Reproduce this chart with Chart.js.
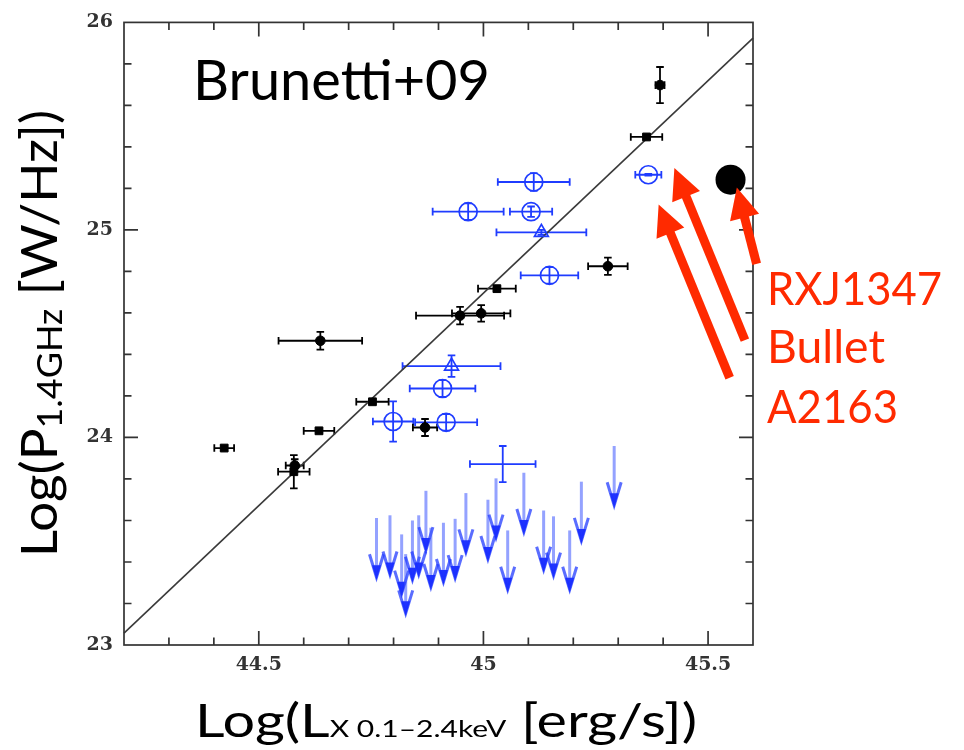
<!DOCTYPE html>
<html>
<head>
<meta charset="utf-8">
<script src="https://cdn.jsdelivr.net/npm/chart.js@4.4.1/dist/chart.umd.min.js"></script>
<style>
  html, body { margin: 0; padding: 0; background: #ffffff; }
  #wrap { width: 964px; height: 750px; position: relative; }
</style>
</head>
<body>
<div id="wrap"><canvas id="c" width="964" height="750"></canvas></div>
<script>
// Radio halo power vs X-ray luminosity (Brunetti et al. 2009 sample)

// Axis ranges and labelled ticks
const xRange = [44.2, 45.6];
const yRange = [23, 26];
const xTickLabels = [44.5, 45, 45.5];
const yTickLabels = [23, 24, 25, 26];

// Best-fit correlation (end points across the frame)
const fitX = [44.2, 45.6];
const fitY = [23.057, 25.924];

// Black filled circles: giant halos
const blackCircX    = [44.637, 44.870, 44.948, 44.995, 45.277, 45.393, 44.580];
const blackCircY    = [24.466, 24.048, 24.587, 24.598, 24.825, 25.698, 23.865];
const blackCircXErr = [0.093, 0.027, 0.098, 0.065, 0.044, 0.010, 0.020];
const blackCircYErr = [0.043, 0.041, 0.042, 0.040, 0.042, 0.087, 0.030];

// Black filled squares
const blackSqX    = [44.423, 44.634, 44.578, 44.753, 45.030, 45.363];
const blackSqY    = [23.949, 24.032, 23.835, 24.172, 24.717, 25.448];
const blackSqXErr = [0.022, 0.034, 0.035, 0.036, 0.042, 0.035];
const blackSqYErr = [0.010, 0.010, 0.080, 0.010, 0.010, 0.010];

// Blue open circles
const blueCircX    = [45.112, 44.966, 45.106, 45.147, 44.909, 44.917, 44.799, 45.367];
const blueCircY    = [25.231, 25.088, 25.088, 24.781, 24.236, 24.073, 24.077, 25.266];
const blueCircXErr = [0.080, 0.079, 0.047, 0.064, 0.073, 0.069, 0.045, 0.029];
const blueCircYErr = [0.043, 0.040, 0.025, 0.040, 0.040, 0.040, 0.097, 0.004];

// Blue open triangles
const blueTriX    = [45.129, 44.929];
const blueTriY    = [24.988, 24.344];
const blueTriXErr = [0.100, 0.109];
const blueTriYErr = [0.012, 0.052];

// Blue error cross without symbol
const blueCrossX    = [45.043];
const blueCrossY    = [23.872];
const blueCrossXErr = [0.073];
const blueCrossYErr = [0.087];

// Blue upper limits
const upperX = [44.762, 44.792, 44.818, 44.827, 44.842, 44.856, 44.872, 44.883, 44.911, 44.937,
                44.961, 45.010, 45.028, 45.054, 45.090, 45.134, 45.156, 45.192, 45.218, 45.291];
const upperY = [23.612, 23.625, 23.533, 23.438, 23.600, 23.625, 23.743, 23.565, 23.589, 23.608,
                23.732, 23.700, 23.803, 23.552, 23.830, 23.648, 23.620, 23.552, 23.787, 23.959];
const upperArrowLen = 0.3;

// Highlighted new halo
const bigDotX = [45.55];
const bigDotY = [25.242];

// Callout arrows (tail -> tip) and their labels
const calloutTailX = [45.608, 45.582, 45.548];
const calloutTailY = [24.836, 24.469, 24.288];
const calloutTipX  = [45.564, 45.425, 45.390];
const calloutTipY  = [25.204, 25.299, 25.123];
const calloutLabels = ['RXJ1347', 'Bullet', 'A2163'];

const BLUE = '#1f3cff';
const RED = '#ff2a00';
const INK = '#333333';
const TEXT_FONT = 'Lato, "Open Sans", sans-serif';

function pts(xs, ys, xe, ye) {
  return xs.map((x, i) => ({ x: x, y: ys[i], xe: xe ? xe[i] : 0, ye: ye ? ye[i] : 0 }));
}

// Error bars with end caps, drawn under the symbols
const errorBars = {
  id: 'errorBars',
  beforeDatasetsDraw(chart) {
    const ctx = chart.ctx, xs = chart.scales.x, ys = chart.scales.y;
    chart.data.datasets.forEach((ds, di) => {
      if (!ds.errorBars) return;
      ctx.save();
      ctx.strokeStyle = ds.errColor;
      ctx.lineWidth = 1.8;
      const cap = 3.8;
      ds.data.forEach(p => {
        const px = xs.getPixelForValue(p.x), py = ys.getPixelForValue(p.y);
        if (p.xe > 0) {
          const x0 = xs.getPixelForValue(p.x - p.xe), x1 = xs.getPixelForValue(p.x + p.xe);
          ctx.beginPath();
          ctx.moveTo(x0, py); ctx.lineTo(x1, py);
          ctx.moveTo(x0, py - cap); ctx.lineTo(x0, py + cap);
          ctx.moveTo(x1, py - cap); ctx.lineTo(x1, py + cap);
          ctx.stroke();
        }
        if (p.ye > 0) {
          const y0 = ys.getPixelForValue(p.y - p.ye), y1 = ys.getPixelForValue(p.y + p.ye);
          ctx.beginPath();
          ctx.moveTo(px, y0); ctx.lineTo(px, y1);
          ctx.moveTo(px - cap, y0); ctx.lineTo(px + cap, y0);
          ctx.moveTo(px - cap, y1); ctx.lineTo(px + cap, y1);
          ctx.stroke();
        }
      });
      ctx.restore();
    });
  }
};

// Downward arrows for radio upper limits
const upperLimits = {
  id: 'upperLimits',
  afterDatasetsDraw(chart) {
    const ctx = chart.ctx, xs = chart.scales.x, ys = chart.scales.y;
    const ds = chart.data.datasets.find(d => d.upperLimit);
    if (!ds) return;
    ctx.save();
    ds.data.forEach(p => {
      const px = xs.getPixelForValue(p.x);
      const top = ys.getPixelForValue(p.y);
      const tip = ys.getPixelForValue(p.y - upperArrowLen);
      // shaft
      ctx.strokeStyle = 'rgba(60,85,255,0.55)';
      ctx.lineWidth = 3;
      ctx.lineCap = 'butt';
      ctx.beginPath();
      ctx.moveTo(px, top); ctx.lineTo(px, tip - 8);
      ctx.stroke();
      // open V head
      ctx.strokeStyle = 'rgba(35,60,255,0.75)';
      ctx.lineWidth = 3;
      ctx.lineJoin = 'miter';
      ctx.beginPath();
      ctx.moveTo(px - 7, tip - 26); ctx.lineTo(px, tip - 3); ctx.lineTo(px + 7, tip - 26);
      ctx.stroke();
      // solid tip
      ctx.fillStyle = 'rgba(25,45,255,0.95)';
      ctx.beginPath();
      ctx.moveTo(px, tip); ctx.lineTo(px - 4.5, tip - 15); ctx.lineTo(px + 4.5, tip - 15);
      ctx.closePath();
      ctx.fill();
    });
    ctx.restore();
  }
};

// Frame with inward major/minor ticks on all four sides
const frame = {
  id: 'frame',
  afterDatasetsDraw(chart) {
    const ctx = chart.ctx, a = chart.chartArea, xs = chart.scales.x, ys = chart.scales.y;
    ctx.save();
    ctx.strokeStyle = INK;
    ctx.lineWidth = 1.7;
    ctx.strokeRect(a.left, a.top, a.right - a.left, a.bottom - a.top);
    ctx.beginPath();
    for (let i = Math.round(xRange[0] * 10) + 1; i < Math.round(xRange[1] * 10); i++) {
      const v = i / 10;
      const len = (i % 5 === 0) ? 14 : 7.5;
      const px = xs.getPixelForValue(v);
      ctx.moveTo(px, a.bottom); ctx.lineTo(px, a.bottom - len);
      ctx.moveTo(px, a.top); ctx.lineTo(px, a.top + len);
    }
    for (let i = yRange[0] * 5 + 1; i < yRange[1] * 5; i++) {
      const v = i / 5;
      const len = (i % 5 === 0) ? 14 : 7.5;
      const py = ys.getPixelForValue(v);
      ctx.moveTo(a.left, py); ctx.lineTo(a.left + len, py);
      ctx.moveTo(a.right, py); ctx.lineTo(a.right - len, py);
    }
    ctx.stroke();
    ctx.restore();
  }
};

// Draw a run of text pieces (with optional subscript shift), stretched to a given width
function richText(ctx, pieces, width) {
  let total = 0;
  pieces.forEach(p => { ctx.font = p.size + 'px ' + TEXT_FONT; p.w = ctx.measureText(p.t).width; total += p.w; });
  const sx = width / total;
  ctx.save();
  ctx.scale(sx, 1);
  let x = 0;
  pieces.forEach(p => {
    ctx.font = p.size + 'px ' + TEXT_FONT;
    ctx.fillText(p.t, x, p.dy || 0);
    x += p.w;
  });
  ctx.restore();
}

// Titles, label and callouts
const annotations = {
  id: 'annotations',
  afterDraw(chart) {
    const ctx = chart.ctx, xs = chart.scales.x, ys = chart.scales.y;
    ctx.save();
    ctx.fillStyle = '#000';
    ctx.textBaseline = 'alphabetic';
    ctx.textAlign = 'left';

    // panel label
    ctx.save();
    ctx.translate(193, 100);
    richText(ctx, [{ t: 'Brunetti+09', size: 57 }], 297);
    ctx.restore();

    // x-axis title
    ctx.save();
    ctx.translate(195, 737);
    richText(ctx, [
      { t: 'Log(L', size: 46 },
      { t: 'X 0.1\u20132.4keV', size: 24, dy: 0 },
      { t: ' [erg/s])', size: 46 }
    ], 502);
    ctx.restore();

    // y-axis title
    ctx.save();
    ctx.translate(57, 557);
    ctx.rotate(-Math.PI / 2);
    richText(ctx, [
      { t: 'Log(P', size: 50 },
      { t: '1.4GHz', size: 34, dy: 5 },
      { t: ' [W/Hz])', size: 50 }
    ], 447);
    ctx.restore();

    // callout arrows
    ctx.strokeStyle = RED;
    ctx.fillStyle = RED;
    calloutTailX.forEach((tx, i) => {
      const x0 = xs.getPixelForValue(tx), y0 = ys.getPixelForValue(calloutTailY[i]);
      const x1 = xs.getPixelForValue(calloutTipX[i]), y1 = ys.getPixelForValue(calloutTipY[i]);
      const ang = Math.atan2(y1 - y0, x1 - x0);
      const headLen = 31, headHalf = 15;
      const bx = x1 - headLen * Math.cos(ang), by = y1 - headLen * Math.sin(ang);
      ctx.lineWidth = 9;
      ctx.lineCap = 'butt';
      ctx.beginPath();
      ctx.moveTo(x0, y0); ctx.lineTo(bx + 4 * Math.cos(ang), by + 4 * Math.sin(ang));
      ctx.stroke();
      ctx.beginPath();
      ctx.moveTo(x1, y1);
      ctx.lineTo(bx + headHalf * Math.sin(ang), by - headHalf * Math.cos(ang));
      ctx.lineTo(bx - headHalf * Math.sin(ang), by + headHalf * Math.cos(ang));
      ctx.closePath();
      ctx.fill();
    });

    // callout labels
    ctx.fillStyle = RED;
    const baselines = [305, 363, 423];
    const widths = [175, 118, 131];
    calloutLabels.forEach((t, i) => {
      ctx.save();
      ctx.translate(767, baselines[i]);
      richText(ctx, [{ t: t, size: 46 }], widths[i]);
      ctx.restore();
    });
    ctx.restore();
  }
};

const tickFont = { family: '"DejaVu Serif", serif', size: 19, weight: 'bold' };

new Chart(document.getElementById('c'), {
  type: 'scatter',
  data: {
    datasets: [
      {
        type: 'line', label: 'fit',
        data: fitX.map((x, i) => ({ x: x, y: fitY[i] })),
        borderColor: '#3a3a3a', borderWidth: 1.6, pointRadius: 0, fill: false, order: 10
      },
      {
        label: 'upper limits', upperLimit: true,
        data: pts(upperX, upperY), pointRadius: 0
      },
      {
        label: 'blue cross', errorBars: true, errColor: BLUE,
        data: pts(blueCrossX, blueCrossY, blueCrossXErr, blueCrossYErr), pointRadius: 0
      },
      {
        label: 'blue circles', errorBars: true, errColor: BLUE,
        data: pts(blueCircX, blueCircY, blueCircXErr, blueCircYErr),
        pointStyle: 'circle', pointRadius: 9, borderColor: BLUE, borderWidth: 1.7,
        backgroundColor: 'rgba(0,0,0,0)'
      },
      {
        label: 'blue triangles', errorBars: true, errColor: BLUE,
        data: pts(blueTriX, blueTriY, blueTriXErr, blueTriYErr),
        pointStyle: 'triangle', pointRadius: 8, borderColor: BLUE, borderWidth: 1.7,
        backgroundColor: 'rgba(0,0,0,0)'
      },
      {
        label: 'black squares', errorBars: true, errColor: '#000',
        data: pts(blackSqX, blackSqY, blackSqXErr, blackSqYErr),
        pointStyle: 'rect', pointRadius: 5.5, borderColor: '#000', borderWidth: 1,
        backgroundColor: '#000'
      },
      {
        label: 'black circles', errorBars: true, errColor: '#000',
        data: pts(blackCircX, blackCircY, blackCircXErr, blackCircYErr),
        pointStyle: 'circle', pointRadius: 4.8, borderColor: '#000', borderWidth: 1,
        backgroundColor: '#000'
      },
      {
        label: 'new halo',
        data: pts(bigDotX, bigDotY),
        pointStyle: 'circle', pointRadius: 15, borderColor: '#000', borderWidth: 0,
        backgroundColor: '#000'
      }
    ]
  },
  options: {
    responsive: false,
    animation: false,
    events: [],
    layout: { padding: { top: 16, right: 211, left: 0, bottom: 0 } },
    plugins: { legend: { display: false }, tooltip: { enabled: false } },
    elements: { line: { tension: 0 } },
    datasets: { scatter: { clip: false }, line: { clip: false } },
    scales: {
      x: {
        type: 'linear', min: xRange[0], max: xRange[1],
        grid: { display: false, drawTicks: false },
        border: { display: false },
        afterBuildTicks: s => { s.ticks = xTickLabels.map(v => ({ value: v })); },
        afterFit: s => { s.height = 105; },
        ticks: {
          autoSkip: false, padding: 9, color: INK, font: tickFont, maxRotation: 0,
          callback: v => String(v)
        }
      },
      y: {
        type: 'linear', min: yRange[0], max: yRange[1],
        grid: { display: false, drawTicks: false },
        border: { display: false },
        afterBuildTicks: s => { s.ticks = yTickLabels.map(v => ({ value: v })); },
        afterFit: s => { s.width = 124; },
        ticks: { padding: 11, color: INK, font: tickFont, callback: v => String(v) }
      }
    }
  },
  plugins: [errorBars, upperLimits, frame, annotations]
});
</script>
</body>
</html>
